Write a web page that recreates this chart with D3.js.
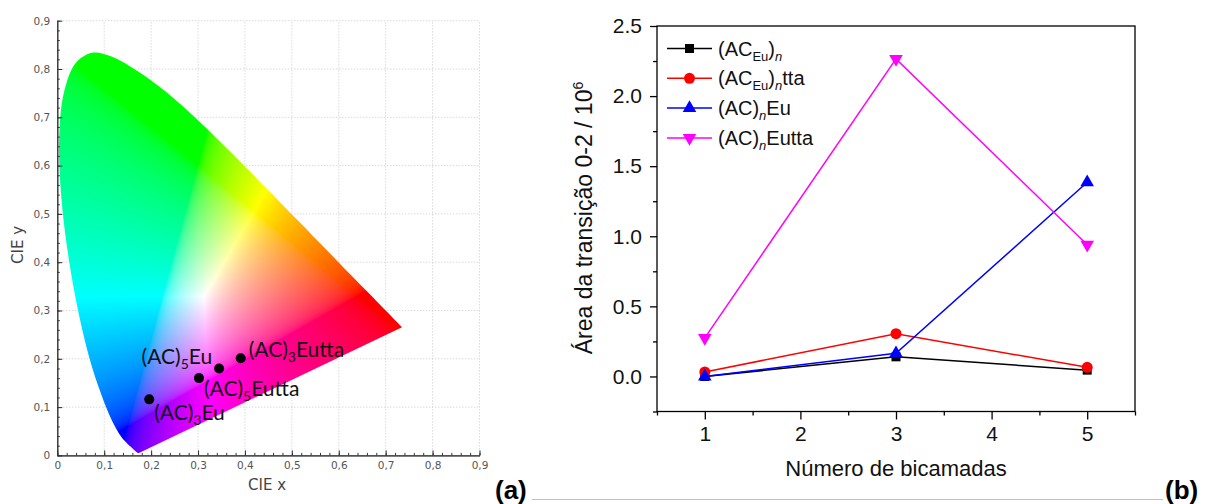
<!DOCTYPE html>
<html>
<head>
<meta charset="utf-8">
<script src="https://cdn.jsdelivr.net/npm/d3@7"></script>
<style>
  body { margin: 0; background: #fff; }
  svg { display: block; }
</style>
</head>
<body>
<svg id="fig" width="1205" height="504"></svg>
<script>
// CIE 1931 2 deg spectral locus (380 .. 700 nm)
const locusX = [0.1741,0.1740,0.1738,0.1736,0.1733,0.1730,0.1726,0.1721,0.1714,0.1703,0.1689,0.1669,0.1644,0.1611,0.1566,0.1510,0.1440,0.1355,0.1241,0.1096,0.0913,0.0687,0.0454,0.0235,0.0082,0.0039,0.0139,0.0389,0.0743,0.1142,0.1547,0.1929,0.2296,0.2658,0.3016,0.3373,0.3731,0.4087,0.4441,0.4788,0.5125,0.5448,0.5752,0.6029,0.6270,0.6482,0.6658,0.6801,0.6915,0.7006,0.7079,0.7140,0.7190,0.7230,0.7260,0.7283,0.7300,0.7311,0.7320,0.7334,0.7344,0.7347];
const locusY = [0.0050,0.0050,0.0049,0.0049,0.0048,0.0048,0.0048,0.0048,0.0051,0.0058,0.0069,0.0086,0.0109,0.0138,0.0177,0.0227,0.0297,0.0399,0.0578,0.0868,0.1327,0.2007,0.2950,0.4127,0.5384,0.6548,0.7502,0.8120,0.8338,0.8262,0.8059,0.7816,0.7543,0.7243,0.6923,0.6589,0.6245,0.5896,0.5547,0.5202,0.4866,0.4544,0.4242,0.3965,0.3725,0.3514,0.3340,0.3197,0.3083,0.2993,0.2920,0.2859,0.2809,0.2770,0.2740,0.2717,0.2700,0.2689,0.2680,0.2666,0.2656,0.2653];

// samples on the diagram
const sampleX = [0.196, 0.302, 0.345, 0.391];
const sampleY = [0.116, 0.160, 0.180, 0.201];
const sampleSub = ["3", "5", "5", "3"];
const sampleTail = ["Eu", "Eutta", "Eu", "Eutta"];
const cieTicks = [0, 0.1, 0.2, 0.3, 0.4, 0.5, 0.6, 0.7, 0.8, 0.9];

// panel b
const bilayers = [1, 3, 5];
const acEu = [0.0, 0.14, 0.045];
const acEuTta = [0.032, 0.305, 0.065];
const acnEu = [0.0, 0.165, 1.385];
const acnEutta = [0.275, 2.265, 0.94];
const yTicksB = [0, 0.5, 1.0, 1.5, 2.0, 2.5];
const xTicksB = [1, 2, 3, 4, 5];

const svg = d3.select('#fig');

// ---------------- (a) CIE diagram ----------------
let cx = d3.scaleLinear().domain([0, 0.9]).range([57.3, 479.5]);
let cy = d3.scaleLinear().domain([0, 0.9]).range([455.4, 20.7]);

let left = svg.append('g').attr('class', 'cie');

// dotted grid
left.append('g').selectAll('line.gx')
	.data(cieTicks.slice(1))
	.enter().append('line')
	.attr('x1', d => cx(d)).attr('x2', d => cx(d))
	.attr('y1', cy(0)).attr('y2', cy(0.9))
	.attr('stroke', '#c8c8c8').attr('stroke-dasharray', '1,2');
left.append('g').selectAll('line.gy')
	.data(cieTicks.slice(1))
	.enter().append('line')
	.attr('x1', cx(0)).attr('x2', cx(0.9))
	.attr('y1', d => cy(d)).attr('y2', d => cy(d))
	.attr('stroke', '#c8c8c8').attr('stroke-dasharray', '1,2');

// colour field: xy -> sRGB, drawn in a canvas and clipped by the locus
function xyToRgb(x, y) {
	let X = x / y, Y = 1, Z = (1 - x - y) / y;
	let r = 3.2406 * X - 1.5372 * Y - 0.4986 * Z;
	let g = -0.9689 * X + 1.8758 * Y + 0.0415 * Z;
	let b = 0.0557 * X - 0.2040 * Y + 1.0570 * Z;
	r = Math.max(r, 0); g = Math.max(g, 0); b = Math.max(b, 0);
	let m = Math.max(r, g, b) || 1;
	return [r / m, g / m, b / m].map(v => {
		v = v <= 0.0031308 ? 12.92 * v : 1.055 * Math.pow(v, 1 / 2.4) - 0.055;
		return Math.round(255 * v);
	});
}

let x0 = Math.floor(cx(0)), x1 = Math.ceil(cx(0.9));
let y0 = Math.floor(cy(0.9)), y1 = Math.ceil(cy(0));
let cw = x1 - x0, ch = y1 - y0;
let canvas = document.createElement('canvas');
canvas.width = cw; canvas.height = ch;
let ctx = canvas.getContext('2d');
let img = ctx.createImageData(cw, ch);
for (let j = 0; j < ch; j++) {
	for (let i = 0; i < cw; i++) {
		let vx = cx.invert(x0 + i + 0.5), vy = cy.invert(y0 + j + 0.5);
		let k = (j * cw + i) * 4;
		if (vy <= 0.001) { img.data[k + 3] = 0; continue; }
		let c = xyToRgb(vx, vy);
		img.data[k] = c[0]; img.data[k + 1] = c[1]; img.data[k + 2] = c[2]; img.data[k + 3] = 255;
	}
}
ctx.putImageData(img, 0, 0);

// smooth spectral locus, straight purple line closes it
let locus = locusX.map((d, i) => [cx(d), cy(locusY[i])]);
svg.append('defs').append('clipPath').attr('id', 'locusClip')
	.append('path').attr('d', d3.line().curve(d3.curveCatmullRom)(locus) + 'Z');

left.append('image')
	.attr('x', x0).attr('y', y0)
	.attr('width', cw).attr('height', ch)
	.attr('href', canvas.toDataURL())
	.attr('clip-path', 'url(#locusClip)');

// axes
let fmtComma = d => d === 0 ? '0' : d3.format('.1f')(d).replace('.', ',');
let minorCie = d3.range(0, 0.9001, 0.02);

left.append('g').attr('transform', `translate(0,${cy(0)})`)
	.call(d3.axisBottom(cx).tickValues(cieTicks).tickFormat(fmtComma).tickSize(-5).tickPadding(6).tickSizeOuter(0));
left.append('g').attr('transform', `translate(0,${cy(0)})`)
	.call(d3.axisBottom(cx).tickValues(minorCie).tickFormat('').tickSize(-2.5).tickSizeOuter(0));
left.append('g').attr('transform', `translate(${cx(0)},0)`)
	.call(d3.axisLeft(cy).tickValues(cieTicks).tickFormat(fmtComma).tickSize(-5).tickPadding(7).tickSizeOuter(0));
left.append('g').attr('transform', `translate(${cx(0)},0)`)
	.call(d3.axisLeft(cy).tickValues(minorCie).tickFormat('').tickSize(-2.5).tickSizeOuter(0));

left.selectAll('.domain, .tick line').attr('stroke', '#333');
left.selectAll('.tick text')
	.attr('font-family', 'DejaVu Sans')
	.attr('font-size', 10.5)
	.attr('fill', '#555');

left.append('text')
	.attr('x', 267).attr('y', 490)
	.attr('text-anchor', 'middle')
	.attr('font-family', 'DejaVu Sans').attr('font-size', 15).attr('fill', '#444')
	.text('CIE x');
left.append('text')
	.attr('transform', 'translate(23,245) rotate(-90)')
	.attr('text-anchor', 'middle')
	.attr('font-family', 'DejaVu Sans').attr('font-size', 15).attr('fill', '#444')
	.text('CIE y');

// sample points + labels
let labelDx = [5, 5, -7, 8];
let labelDy = [21, 18, -4, -1];
let labelAnchor = ['start', 'start', 'end', 'start'];

left.append('g').selectAll('circle')
	.data(sampleX)
	.enter().append('circle')
	.attr('cx', d => cx(d))
	.attr('cy', (d, i) => cy(sampleY[i]))
	.attr('r', 5)
	.attr('fill', '#000');

let labels = left.append('g').selectAll('text')
	.data(sampleX)
	.enter().append('text')
	.attr('x', (d, i) => cx(d) + labelDx[i])
	.attr('y', (d, i) => cy(sampleY[i]) + labelDy[i])
	.attr('text-anchor', (d, i) => labelAnchor[i])
	.attr('font-family', 'Lato').attr('font-size', 21).attr('fill', '#111');
labels.append('tspan').text('(AC)');
labels.append('tspan').attr('dy', 5).attr('font-size', 14).text((d, i) => sampleSub[i]);
labels.append('tspan').attr('dy', -5).text((d, i) => sampleTail[i]);

// ---------------- (b) line chart ----------------
let bx = d3.scaleLinear().domain([0.5, 5.5]).range([657, 1135]);
let by = d3.scaleLinear().domain([-0.25, 2.5]).range([411.5, 26]);

let right = svg.append('g').attr('class', 'panelb');

right.append('g').attr('transform', `translate(0,${by(-0.25)})`)
	.call(d3.axisBottom(bx).tickValues(xTicksB).tickFormat(d3.format('d')).tickSize(8).tickPadding(7).tickSizeOuter(0));
right.append('g').attr('transform', `translate(0,${by(-0.25)})`)
	.call(d3.axisBottom(bx).tickValues(d3.range(0.5, 5.51, 1)).tickFormat('').tickSize(4).tickSizeOuter(0));
right.append('g').attr('transform', `translate(${bx(0.5)},0)`)
	.call(d3.axisLeft(by).tickValues(yTicksB).tickFormat(d3.format('.1f')).tickSize(7).tickPadding(8).tickSizeOuter(0));
right.append('g').attr('transform', `translate(${bx(0.5)},0)`)
	.call(d3.axisLeft(by).tickValues(d3.range(-0.25, 2.3, 0.5)).tickFormat('').tickSize(4).tickSizeOuter(0));

right.selectAll('.tick line').attr('stroke', '#000').attr('stroke-width', 1.3);
right.selectAll('.domain').remove();
right.selectAll('.tick text')
	.attr('font-family', 'Liberation Sans, Arial')
	.attr('font-size', 21)
	.attr('fill', '#111');

right.append('rect')
	.attr('x', bx(0.5)).attr('y', by(2.5))
	.attr('width', bx(5.5) - bx(0.5)).attr('height', by(-0.25) - by(2.5))
	.attr('fill', 'none').attr('stroke', '#000').attr('stroke-width', 1.3);

let series = [
	{ name: 'acEu', values: acEu, color: '#000000', symbol: d3.symbolSquare, size: 81, rot: 0 },
	{ name: 'acEuTta', values: acEuTta, color: '#ff0000', symbol: d3.symbolCircle, size: 95, rot: 0 },
	{ name: 'acnEu', values: acnEu, color: '#0000ff', symbol: d3.symbolTriangle, size: 80, rot: 0 },
	{ name: 'acnEutta', values: acnEutta, color: '#ff00ff', symbol: d3.symbolTriangle, size: 80, rot: 180 }
];

let line = d3.line().x((d, i) => bx(bilayers[i])).y(d => by(d));

series.forEach(s => {
	right.append('path')
		.attr('d', line(s.values))
		.attr('fill', 'none')
		.attr('stroke', s.color)
		.attr('stroke-width', 1.5);
	right.append('g').selectAll('path')
		.data(s.values)
		.enter().append('path')
		.attr('d', d3.symbol().type(s.symbol).size(s.size))
		.attr('transform', (d, i) => `translate(${bx(bilayers[i])},${by(d)}) rotate(${s.rot})`)
		.attr('fill', s.color);
});

// legend
let legendParts = [
	[['(AC', 0], ['Eu', 1], [')', 0], ['n', 2]],
	[['(AC', 0], ['Eu', 1], [')', 0], ['n', 2], ['tta', 0]],
	[['(AC)', 0], ['n', 2], ['Eu', 0]],
	[['(AC)', 0], ['n', 2], ['Eutta', 0]]
];

let legend = right.append('g').attr('transform', 'translate(667,48.5)');
series.forEach((s, i) => {
	let row = legend.append('g').attr('transform', `translate(0,${i * 29.8})`);
	row.append('line').attr('x1', 0).attr('x2', 45).attr('stroke', s.color).attr('stroke-width', 1.5);
	row.append('path')
		.attr('d', d3.symbol().type(s.symbol).size(s.size))
		.attr('transform', `translate(22.5,0) rotate(${s.rot})`)
		.attr('fill', s.color);
	let t = row.append('text')
		.attr('x', 51).attr('y', 7)
		.attr('font-family', 'Liberation Sans, Arial').attr('font-size', 20).attr('fill', '#111');
	let shifted = false;
	legendParts[i].forEach(p => {
		let ts = t.append('tspan').text(p[0]);
		if (p[1] > 0) {
			ts.attr('font-size', 13).attr('dy', shifted ? 0 : 5);
			if (p[1] === 2) ts.attr('font-style', 'italic');
			shifted = true;
		} else if (shifted) {
			ts.attr('dy', -5);
			shifted = false;
		}
	});
});

// axis titles
let ylab = right.append('text')
	.attr('transform', 'translate(592,218) rotate(-90)')
	.attr('text-anchor', 'middle')
	.attr('font-family', 'Liberation Sans, Arial').attr('font-size', 23).attr('fill', '#111');
ylab.append('tspan').text('Área da transição 0-2 / 10');
ylab.append('tspan').attr('dy', -9).attr('font-size', 14).text('6');

right.append('text')
	.attr('x', bx(3)).attr('y', 476)
	.attr('text-anchor', 'middle')
	.attr('font-family', 'Liberation Sans, Arial').attr('font-size', 22).attr('fill', '#111')
	.text('Número de bicamadas');

// panel letters and rule
svg.append('line')
	.attr('x1', 532).attr('x2', 1163).attr('y1', 499.5).attr('y2', 499.5)
	.attr('stroke', '#c0c0c0').attr('stroke-width', 1);
svg.append('text')
	.attr('x', 495).attr('y', 499)
	.attr('font-family', 'Liberation Sans, Arial').attr('font-weight', 'bold').attr('font-size', 26)
	.text('(a)');
svg.append('text')
	.attr('x', 1165).attr('y', 499)
	.attr('font-family', 'Liberation Sans, Arial').attr('font-weight', 'bold').attr('font-size', 26)
	.text('(b)');
</script>
</body>
</html>
